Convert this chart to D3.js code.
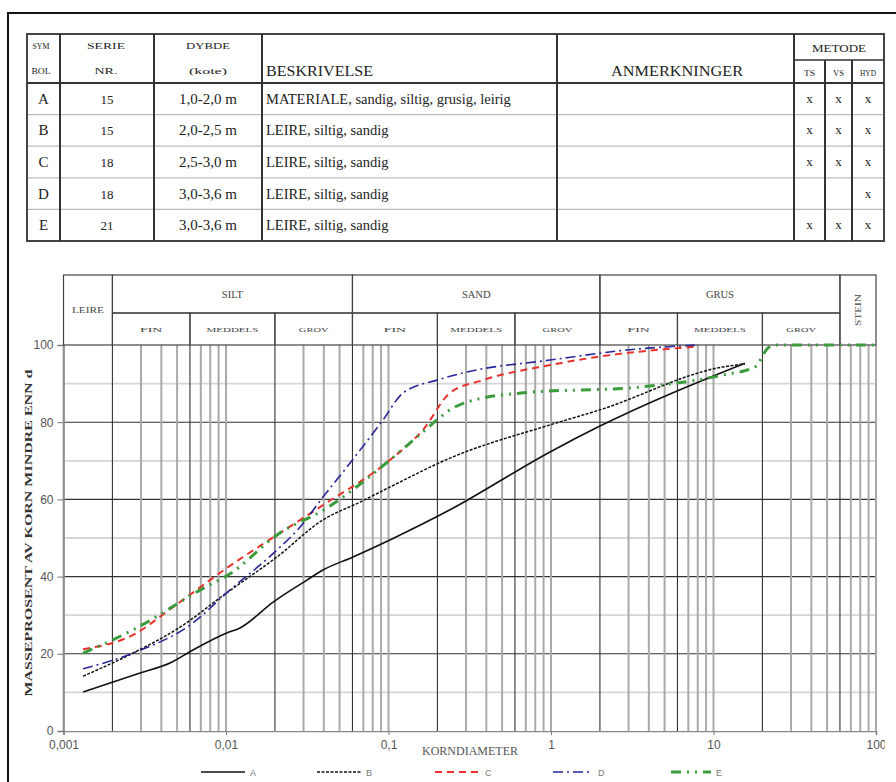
<!DOCTYPE html>
<html>
<head>
<meta charset="utf-8">
<script src="https://cdn.jsdelivr.net/npm/d3@7"></script>
<style>
body { margin: 0; background: #fff; }
svg { display: block; }
</style>
</head>
<body>
<div id="chart"></div>
<script>
// table rows
const symbols = ["A", "B", "C", "D", "E"];
const serieNr = ["15", "15", "18", "18", "21"];
const dybde = ["1,0-2,0 m", "2,0-2,5 m", "2,5-3,0 m", "3,0-3,6 m", "3,0-3,6 m"];
const beskrivelse = [
    "MATERIALE, sandig, siltig, grusig, leirig",
    "LEIRE, siltig, sandig",
    "LEIRE, siltig, sandig",
    "LEIRE, siltig, sandig",
    "LEIRE, siltig, sandig"
];
const metodeCols = ["TS", "VS", "HYD"];
const metode = [[1, 1, 1], [1, 1, 1], [1, 1, 1], [0, 0, 1], [1, 1, 1]];

// fraction header
const mainFractions = [["LEIRE", 0.001, 0.002], ["SILT", 0.002, 0.06], ["SAND", 0.06, 2], ["GRUS", 2, 60], ["STEIN", 60, 100]];
const subFractions = [["FIN", 0.002, 0.006], ["MEDDELS", 0.006, 0.02], ["GROV", 0.02, 0.06],
    ["FIN", 0.06, 0.2], ["MEDDELS", 0.2, 0.6], ["GROV", 0.6, 2],
    ["FIN", 2, 6], ["MEDDELS", 6, 20], ["GROV", 20, 60]];

const xTicks = [0.001, 0.01, 0.1, 1, 10, 100];
const xTickLabels = ["0,001", "0,01", "0,1", "1", "10", "100"];
const yTicks = [0, 20, 40, 60, 80, 100];

// grain size curves: [diameter mm, percent passing]
const curveA = [[0.00132, 10.1], [0.00296, 15.0], [0.00452, 17.6], [0.00626, 21.0], [0.0101, 25.4], [0.0122, 26.7],
    [0.0195, 33.4], [0.0315, 39.1], [0.0395, 41.7], [0.0605, 45.1], [0.102, 49.5], [0.239, 57.3],
    [0.986, 72.3], [2.0, 79.0], [15.6, 95.3]];
const curveB = [[0.00132, 14.2], [0.00268, 20.2], [0.00521, 26.9], [0.0101, 35.8], [0.0206, 45.1], [0.0395, 54.7],
    [0.0668, 59.3], [0.102, 63.2], [0.239, 70.7], [0.986, 79.3], [2.0, 83.2], [11.4, 94.3], [15.6, 95.1]];
const curveC = [[0.00132, 21.2], [0.00268, 24.9], [0.00472, 32.1], [0.0101, 42.2], [0.0206, 50.8], [0.0395, 58.5],
    [0.102, 70.2], [0.163, 78.0], [0.239, 87.6], [0.382, 90.9], [0.986, 94.8], [1.92, 96.9], [7.9, 99.6]];
const curveD = [[0.00132, 16.1], [0.00268, 20.2], [0.00626, 28.0], [0.0101, 35.8], [0.0206, 46.9], [0.0285, 52.8],
    [0.0395, 60.6], [0.058, 69.4], [0.0925, 80.6], [0.123, 87.6], [0.199, 90.9], [0.304, 93.0],
    [0.986, 96.1], [2.93, 98.7], [7.9, 100]];
const curveE = [[0.00132, 20.2], [0.00268, 26.2], [0.00692, 36.5], [0.011, 41.2], [0.0206, 50.8], [0.0419, 57.8],
    [0.102, 70.2], [0.15, 76.2], [0.199, 80.6], [0.239, 83.2], [0.304, 85.2], [0.673, 87.6], [3.53, 89.1],
    [11.4, 92.2], [18.0, 94.3], [21.6, 99.2], [23.9, 100], [100, 100]];

const series = [
    { key: "A", values: curveA, color: "#111", width: 1.6, dash: null },
    { key: "B", values: curveB, color: "#111", width: 1.5, dash: "3,1.5" },
    { key: "C", values: curveC, color: "#e8322b", width: 2, dash: "7,5" },
    { key: "D", values: curveD, color: "#27279a", width: 1.6, dash: "10,4,2,4" },
    { key: "E", values: curveE, color: "#3b9c3b", width: 3, dash: "10,6,2,6,2,6" }
];

const W = 896, H = 782;
const svg = d3.select("#chart").append("svg")
    .attr("width", W).attr("height", H)
    .style("font-family", "'Liberation Serif', 'Times New Roman', serif");

// outer frame
svg.append("path").attr("d", `M8,${H + 5}V13H${W + 5}`)
    .attr("fill", "none").attr("stroke", "#111").attr("stroke-width", 2);

// ---------- table ----------
const tb = svg.append("g");
const tL = 27, tR = 884, tT = 34, tH = 83, rowH = 31.6;
const colX = [27, 60, 154, 262, 557, 794, 825, 852, 884];
const tB = tH + rowH * symbols.length;

for (let i = 1; i < symbols.length; i++) {
    tb.append("line").attr("x1", tL).attr("x2", tR).attr("y1", tH + rowH * i).attr("y2", tH + rowH * i)
        .attr("stroke", "#bbb").attr("stroke-width", 1.2);
}
tb.append("rect").attr("x", tL).attr("y", tT).attr("width", tR - tL).attr("height", tB - tT)
    .attr("fill", "none").attr("stroke", "#444").attr("stroke-width", 2);
tb.append("line").attr("x1", tL).attr("x2", tR).attr("y1", tH).attr("y2", tH)
    .attr("stroke", "#333").attr("stroke-width", 2);
tb.append("line").attr("x1", colX[5]).attr("x2", tR).attr("y1", 60).attr("y2", 60)
    .attr("stroke", "#333").attr("stroke-width", 1.6);
colX.slice(1, 6).forEach(x => {
    tb.append("line").attr("x1", x).attr("x2", x).attr("y1", tT).attr("y2", tB)
        .attr("stroke", "#333").attr("stroke-width", 2);
});
colX.slice(6, 8).forEach(x => {
    tb.append("line").attr("x1", x).attr("x2", x).attr("y1", 60).attr("y2", tB)
        .attr("stroke", "#333").attr("stroke-width", 2);
});

function tText(x, y, s, size, anchor, len) {
    const t = tb.append("text").attr("x", x).attr("y", y).attr("text-anchor", anchor || "middle")
        .attr("font-size", size).attr("fill", "#222").text(s);
    if (len) t.attr("textLength", len).attr("lengthAdjust", "spacingAndGlyphs");
    return t;
}
tText(41, 49, "SYM", 8, "middle", 17);
tText(41, 74, "BOL", 8, "middle", 19);
tText(106, 49, "SERIE", 9, "middle", 38);
tText(106, 74, "NR.", 9, "middle", 23);
tText(208, 49, "DYBDE", 9, "middle", 44);
tText(208, 74, "(kote)", 9, "middle", 38);
tText(266, 76, "BESKRIVELSE", 15, "start", 107);
tText(677, 76, "ANMERKNINGER", 15, "middle", 132);
tText(839, 52, "METODE", 10, "middle", 54);
metodeCols.forEach((m, j) => {
    tText((colX[5 + j] + colX[6 + j]) / 2, 76, m, 7.5, "middle", m.length * 5 + 1);
});

symbols.forEach((s, i) => {
    const y = tH + rowH * i + rowH / 2 + 5;
    tText(43.5, y, s, 15);
    tText(107, y, serieNr[i], 13);
    tText(208, y, dybde[i], 15);
    tText(266, y, beskrivelse[i], 14.5, "start");
    metode[i].forEach((v, j) => {
        if (v) tText((colX[5 + j] + colX[6 + j]) / 2, y - 1, "x", 13);
    });
});

// ---------- chart ----------
const x = d3.scaleLog().domain([0.001, 100]).range([63.5, 876]);
const y = d3.scaleLinear().domain([0, 100]).range([731, 345]);

const grid = svg.append("g");
// horizontal grid
d3.range(10, 100, 10).forEach(v => {
    const major = v % 20 === 0;
    grid.append("line").attr("x1", x(0.001)).attr("x2", x(100)).attr("y1", y(v)).attr("y2", y(v))
        .attr("stroke", major ? "#333" : "#d6d6d6").attr("stroke-width", major ? 1.1 : 1.8);
});
// vertical grid
const vLines = [];
for (let k = -3; k <= 1; k++) {
    for (let m = 1; m <= 9; m++) vLines.push({ v: m * Math.pow(10, k), dark: m === 2 || m === 6 });
}
vLines.push({ v: 100, dark: false });
vLines.forEach(d => {
    grid.append("line").attr("x1", x(d.v)).attr("x2", x(d.v)).attr("y1", y(0)).attr("y2", y(100))
        .attr("stroke", d.dark ? "#333" : "#aaa").attr("stroke-width", d.dark ? 1.1 : 2);
});

// axes
const yAxis = svg.append("g").attr("transform", `translate(${x(0.001)},0)`)
    .call(d3.axisLeft(y).tickValues(yTicks).tickSize(6).tickPadding(4));
yAxis.select(".domain").attr("stroke", "#888").attr("stroke-width", 1.5);
yAxis.selectAll(".tick line").attr("stroke", "#777");
yAxis.selectAll("text").attr("fill", "#555").attr("font-size", 12)
    .attr("font-family", "'Liberation Sans', Arial, sans-serif");

svg.append("clipPath").attr("id", "xclip").append("rect")
    .attr("x", 0).attr("y", 0).attr("width", 885).attr("height", H);
const xAxis = svg.append("g").attr("transform", `translate(0,${y(0)})`).attr("clip-path", "url(#xclip)")
    .call(d3.axisBottom(x).tickValues(xTicks).tickFormat((d, i) => xTickLabels[i]).tickSize(4).tickPadding(5));
xAxis.select(".domain").attr("stroke", "#888").attr("stroke-width", 1.5);
xAxis.selectAll(".tick line").attr("stroke", "#777");
xAxis.selectAll("text").attr("fill", "#555").attr("font-size", 12)
    .attr("font-family", "'Liberation Sans', Arial, sans-serif");

svg.append("text").attr("x", 470).attr("y", 755).attr("text-anchor", "middle")
    .attr("font-size", 12).attr("fill", "#555").text("KORNDIAMETER");

svg.append("text").attr("transform", "translate(32,533) rotate(-90)").attr("text-anchor", "middle")
    .attr("font-size", 11).attr("font-weight", "bold").attr("fill", "#333")
    .attr("textLength", 327).attr("lengthAdjust", "spacingAndGlyphs")
    .text("MASSEPROSENT AV KORN MINDRE ENN d");

// fraction header
const hTop = 275, hMid = 313, hBot = y(100);
const hdr = svg.append("g");
mainFractions.forEach(([name, a, b]) => {
    const full = name === "LEIRE" || name === "STEIN";
    hdr.append("rect").attr("x", x(a)).attr("y", hTop).attr("width", x(b) - x(a))
        .attr("height", (full ? hBot : hMid) - hTop).attr("fill", "none").attr("stroke", "#444").attr("stroke-width", 1.2);
    const cx = (x(a) + x(b)) / 2;
    if (name === "STEIN") {
        hdr.append("text").attr("transform", `translate(${cx + 3},${(hTop + hBot) / 2}) rotate(-90)`)
            .attr("text-anchor", "middle").attr("font-size", 8).attr("fill", "#444")
            .attr("textLength", 32).attr("lengthAdjust", "spacingAndGlyphs").text(name);
    } else if (name === "LEIRE") {
        hdr.append("text").attr("x", cx).attr("y", 313).attr("text-anchor", "middle")
            .attr("font-size", 7.5).attr("fill", "#444")
            .attr("textLength", 32).attr("lengthAdjust", "spacingAndGlyphs").text(name);
    } else {
        hdr.append("text").attr("x", cx).attr("y", 298).attr("text-anchor", "middle")
            .attr("font-size", 10.5).attr("fill", "#444").text(name);
    }
});
subFractions.forEach(([name, a, b]) => {
    hdr.append("rect").attr("x", x(a)).attr("y", hMid).attr("width", x(b) - x(a)).attr("height", hBot - hMid)
        .attr("fill", "none").attr("stroke", "#444").attr("stroke-width", 1.2);
    hdr.append("text").attr("x", (x(a) + x(b)) / 2).attr("y", 332).attr("text-anchor", "middle")
        .attr("font-size", 7).attr("fill", "#444")
        .attr("textLength", name.length * 7.4).attr("lengthAdjust", "spacingAndGlyphs").text(name);
});

// curves
const line = d3.line().x(d => x(d[0])).y(d => y(d[1])).curve(d3.curveMonotoneX);
series.forEach(s => {
    svg.append("path").datum(s.values).attr("d", line)
        .attr("fill", "none").attr("stroke", s.color).attr("stroke-width", s.width)
        .attr("stroke-dasharray", s.dash);
});

// legend
const legendX = [201, 317, 435, 553, 671];
const legendLen = [44, 44, 45, 40, 40];
series.forEach((s, i) => {
    const g = svg.append("g").attr("transform", `translate(${legendX[i]},772)`);
    g.append("line").attr("x1", 0).attr("x2", legendLen[i]).attr("y1", 0).attr("y2", 0)
        .attr("stroke", s.color).attr("stroke-width", s.width).attr("stroke-dasharray", s.dash);
    g.append("text").attr("x", legendLen[i] + 5).attr("y", 3.5).attr("font-size", 9).attr("fill", "#777")
        .attr("font-family", "'Liberation Sans', Arial, sans-serif").text(s.key);
});
</script>
</body>
</html>
